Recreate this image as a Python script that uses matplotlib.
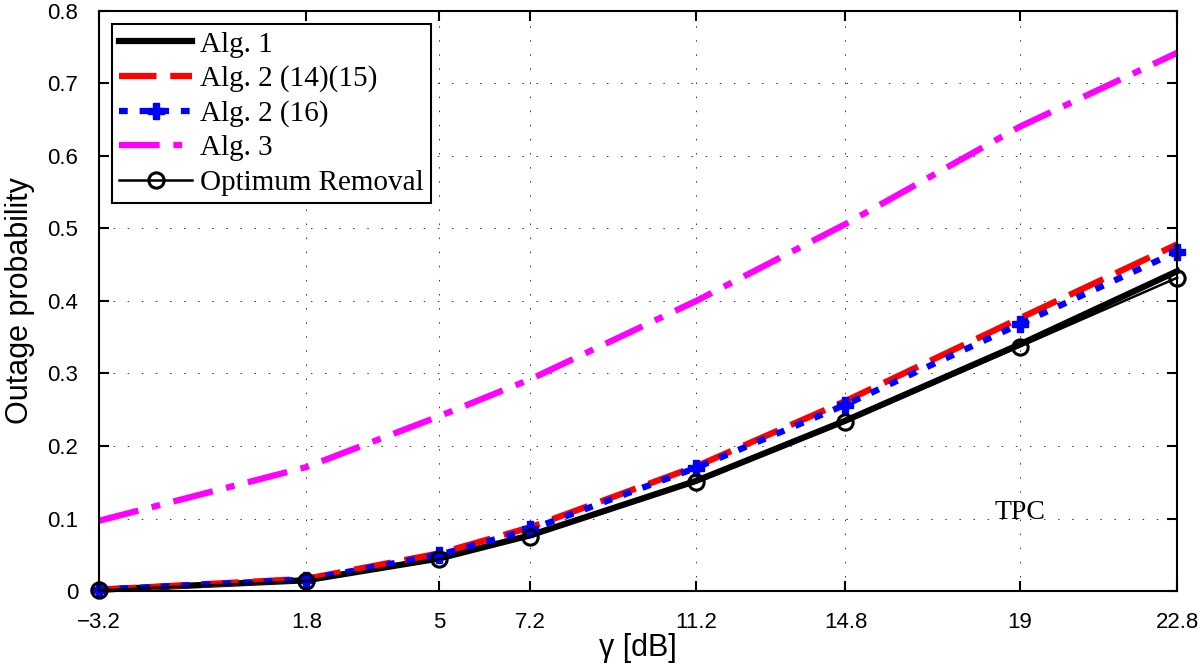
import matplotlib.pyplot as plt

# gamma values (dB)
gamma = [-3.2, 1.8, 5, 7.2, 11.2, 14.8, 19, 22.8]

# outage probability
alg1 = [0.002, 0.015, 0.045, 0.077, 0.152, 0.235, 0.340, 0.441]
alg2_1415 = [0.002, 0.017, 0.052, 0.088, 0.172, 0.262, 0.376, 0.478]
alg2_16 = [0.002, 0.016, 0.050, 0.085, 0.170, 0.257, 0.368, 0.468]
alg3 = [0.097, 0.171, 0.241, 0.292, 0.400, 0.506, 0.640, 0.742]
optimum = [0.001, 0.014, 0.044, 0.075, 0.151, 0.233, 0.337, 0.432]

yticks = [0, 0.1, 0.2, 0.3, 0.4, 0.5, 0.6, 0.7, 0.8]
ytick_labels = ['0', '0.1', '0.2', '0.3', '0.4', '0.5', '0.6', '0.7', '0.8']
xtick_labels = ['\u22123.2', '1.8', '5', '7.2', '11.2', '14.8', '19', '22.8']

fig = plt.figure(figsize=(12, 6.71), dpi=100)
ax = fig.add_axes([0.0825, 0.119, 0.8985, 0.865])

ax.plot(gamma, alg1, color='black', lw=4.5, label='Alg. 1', clip_on=False)
ax.plot(gamma, alg2_1415, color='red', lw=4.5, dashes=(6, 2.2),
        dash_capstyle='butt', label='Alg. 2 (14)(15)', clip_on=False)
ax.plot(gamma, alg2_16, color='blue', lw=4.5, dashes=(1.4, 1.9),
        dash_capstyle='butt', marker='P', ms=11, mec='blue', mfc='blue',
        label='Alg. 2 (16)', clip_on=False)
ax.plot(gamma, alg3, color='magenta', lw=4.5, dashes=(6.5, 2.2, 1.4, 2.2),
        dash_capstyle='butt', label='Alg. 3', clip_on=False)
ax.plot(gamma, optimum, color='black', lw=1.8, marker='o', ms=11,
        mfc='none', mec='black', mew=2.2, label='Optimum Removal', clip_on=False)

ax.set_xlim(-3.2, 22.8)
ax.set_ylim(0, 0.8)
ax.set_xticks(gamma)
ax.set_xticklabels(xtick_labels)
ax.set_yticks(yticks)
ax.set_yticklabels(ytick_labels)
ax.tick_params(direction='in', length=7, width=1.5, labelsize=16,
               top=True, right=True)
ax.tick_params(axis='x', pad=15)
ax.tick_params(axis='y', pad=15)
for lab in ax.get_xticklabels() + ax.get_yticklabels():
    lab.set_family('Liberation Sans')
for sp in ax.spines.values():
    sp.set_linewidth(1.5)

ax.grid(True, linestyle=(0, (1.5, 13)), color='#333333', lw=0.7)

ax.set_xlabel('\u03b3 [dB]', fontsize=22, family='Liberation Sans', labelpad=0)
ax.set_ylabel('Outage probability', fontsize=22, family='Liberation Sans', labelpad=9)

ax.text(19, 0.109, 'TPC', fontsize=20, family='Liberation Serif',
        ha='center', va='center')

leg = ax.legend(loc='upper left', prop={'family': 'Liberation Serif', 'size': 21},
                handlelength=2.5, handletextpad=0.25, labelspacing=0.27,
                borderpad=0.25, borderaxespad=0.45, fancybox=False,
                edgecolor='black', framealpha=1)
leg.get_frame().set_linewidth(1.5)

plt.savefig('out.png')
